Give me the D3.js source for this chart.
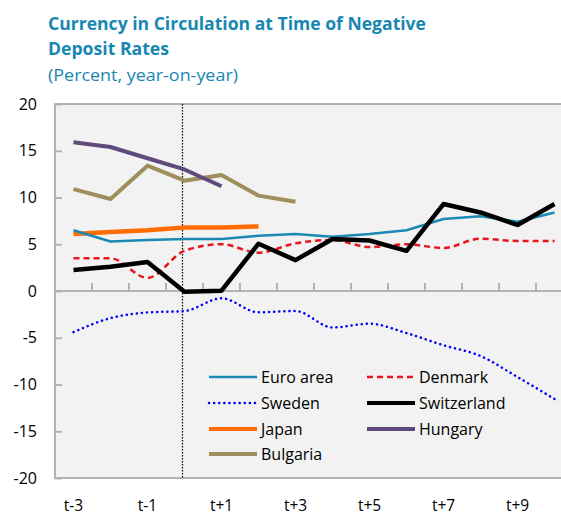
<!DOCTYPE html>
<html>
<head>
<meta charset="utf-8">
<script src="https://cdn.jsdelivr.net/npm/d3@7"></script>
<style>
  body { margin: 0; background: #fff; }
  svg text { font-family: "Open Sans", "DejaVu Sans", sans-serif; }
</style>
</head>
<body>
<div id="chart"></div>
<script>
// periods relative to the move to negative deposit rates
const periods = ["t-3", "t-2", "t-1", "t0", "t+1", "t+2", "t+3", "t+4", "t+5", "t+6", "t+7", "t+8", "t+9", "t+10"];
const tickLabels = ["t-3", "t-1", "t+1", "t+3", "t+5", "t+7", "t+9"];
const yTicks = [20, 15, 10, 5, 0, -5, -10, -15, -20];

const euroArea = [6.5, 5.3, 5.45, 5.55, 5.55, 5.9, 6.1, 5.8, 6.1, 6.5, 7.7, 8.0, 7.4, 8.4];
const denmark = [3.5, 3.5, 1.4, 4.3, 5.0, 4.1, 5.1, 5.45, 4.7, 5.0, 4.6, 5.6, 5.35, 5.35];
const sweden = [-4.4, -2.9, -2.3, -2.14, -0.78, -2.28, -2.14, -3.9, -3.5, -4.5, -5.8, -6.95, -9.2, -11.55];
const switzerland = [2.25, 2.6, 3.1, -0.07, 0.03, 5.06, 3.3, 5.56, 5.4, 4.3, 9.3, 8.4, 7.06, 9.3];
const japan = [6.1, 6.3, 6.5, 6.8, 6.8, 6.9];
const hungary = [15.9, 15.4, 14.2, 13.0, 11.2];
const bulgaria = [10.9, 9.84, 13.4, 11.8, 12.4, 10.2, 9.55];

const series = [
  { name: "Euro area", values: euroArea, color: "#1a8ab4", width: 2.5, dash: null, smooth: false },
  { name: "Denmark", values: denmark, color: "#e8161b", width: 2.5, dash: "6,4", smooth: true },
  { name: "Sweden", values: sweden, color: "#0000ff", width: 2.5, dash: "0.1,5", smooth: true },
  { name: "Switzerland", values: switzerland, color: "#000000", width: 4.5, dash: null, smooth: false },
  { name: "Japan", values: japan, color: "#ff6c00", width: 4.5, dash: null, smooth: false },
  { name: "Hungary", values: hungary, color: "#5e4a7c", width: 4, dash: null, smooth: false },
  { name: "Bulgaria", values: bulgaria, color: "#9e8e5c", width: 4, dash: null, smooth: false }
];

const width = 561, height = 516;
const margin = { top: 104, left: 55, bottom: 38 };
const plotRight = 573; // the plot runs past the edge of the picture

const svg = d3.select("#chart").append("svg")
  .attr("width", width)
  .attr("height", height);

const x = d3.scaleBand().domain(periods).range([margin.left, plotRight]);
const y = d3.scaleLinear().domain([-20, 20]).range([height - margin.bottom, margin.top]);
const cx = (i) => x(periods[i]) + x.bandwidth() / 2;

// titles
const titleColor = "#1787b2";
svg.append("text").attr("x", 48).attr("y", 30)
  .attr("fill", titleColor).attr("font-weight", "bold").attr("font-size", 18.5)
  .attr("textLength", 378).attr("lengthAdjust", "spacingAndGlyphs")
  .text("Currency in Circulation at Time of Negative");
svg.append("text").attr("x", 48).attr("y", 55)
  .attr("fill", titleColor).attr("font-weight", "bold").attr("font-size", 18.5)
  .attr("textLength", 121).attr("lengthAdjust", "spacingAndGlyphs")
  .text("Deposit Rates");
svg.append("text").attr("x", 48).attr("y", 81)
  .attr("fill", titleColor).attr("font-size", 17)
  .attr("textLength", 190).attr("lengthAdjust", "spacingAndGlyphs")
  .text("(Percent, year-on-year)");

// plot background
svg.append("rect")
  .attr("x", margin.left).attr("y", margin.top)
  .attr("width", plotRight - margin.left)
  .attr("height", y(-20) - y(20))
  .attr("fill", "#f2f2f2");

const axisColor = "#b3b3b3";

// frame: top, left, bottom
svg.append("path")
  .attr("d", `M${plotRight},${y(20)}H${margin.left}V${y(-20)}H${plotRight}`)
  .attr("fill", "none").attr("stroke", axisColor).attr("stroke-width", 2);

// y axis ticks pointing inward
const yAxis = svg.append("g")
  .attr("transform", `translate(${margin.left},0)`)
  .call(d3.axisRight(y).tickValues(yTicks).tickSize(7).tickFormat(""));
yAxis.select(".domain").remove();
yAxis.selectAll("line").attr("stroke", axisColor).attr("stroke-width", 2);

svg.append("g").selectAll("text")
  .data(yTicks)
  .join("text")
  .attr("x", 37).attr("y", (d) => y(d))
  .attr("dy", "0.35em")
  .attr("text-anchor", "end")
  .attr("font-size", 16)
  .attr("fill", "#000")
  .text((d) => d);

// zero line with band ticks pointing up
svg.append("line")
  .attr("x1", margin.left).attr("x2", plotRight)
  .attr("y1", y(0)).attr("y2", y(0))
  .attr("stroke", axisColor).attr("stroke-width", 2);
svg.append("g").selectAll("line")
  .data(periods.slice(1))
  .join("line")
  .attr("x1", (d) => x(d)).attr("x2", (d) => x(d))
  .attr("y1", y(0)).attr("y2", y(0) - 8)
  .attr("stroke", axisColor).attr("stroke-width", 2);

// x labels
svg.append("g").selectAll("text")
  .data(tickLabels)
  .join("text")
  .attr("x", (d) => x(d) + x.bandwidth() / 2)
  .attr("y", 511)
  .attr("text-anchor", "middle")
  .attr("font-size", 15.5)
  .attr("fill", "#000")
  .text((d) => d);

// vertical marker at t0
svg.append("line")
  .attr("x1", cx(3) - 2).attr("x2", cx(3) - 2)
  .attr("y1", y(20)).attr("y2", y(-20))
  .attr("stroke", "#000").attr("stroke-width", 1.2)
  .attr("stroke-dasharray", "1.5,1.5");

// lines
const drawOrder = ["Bulgaria", "Hungary", "Japan", "Euro area", "Denmark", "Sweden", "Switzerland"];
drawOrder.forEach((name) => {
  const s = series.find((d) => d.name === name);
  const line = d3.line()
    .x((d, i) => cx(i))
    .y((d) => y(d))
    .curve(s.smooth ? d3.curveMonotoneX : d3.curveLinear);
  svg.append("path")
    .datum(s.values)
    .attr("d", line)
    .attr("fill", "none")
    .attr("stroke", s.color)
    .attr("stroke-width", s.width)
    .attr("stroke-linejoin", "round")
    .attr("stroke-linecap", s.dash === "0.1,5" ? "round" : "butt")
    .attr("stroke-dasharray", s.dash);
});

// legend
const legendCols = [209, 367];
const legendRows = [377, 403, 429, 454];
const legend = svg.append("g").selectAll("g")
  .data(series)
  .join("g")
  .attr("transform", (d, i) => `translate(${legendCols[i % 2]},${legendRows[Math.floor(i / 2)]})`);
legend.append("line")
  .attr("x1", 0).attr("x2", 48)
  .attr("stroke", (d) => d.color)
  .attr("stroke-width", (d) => Math.min(d.width, 4))
  .attr("stroke-dasharray", (d) => d.dash)
  .attr("stroke-linecap", (d) => (d.dash === "0.1,5" ? "round" : "butt"));
legend.append("text")
  .attr("x", 52)
  .attr("dy", "0.35em")
  .attr("font-size", 16)
  .attr("fill", "#000")
  .text((d) => d.name);
</script>
</body>
</html>
